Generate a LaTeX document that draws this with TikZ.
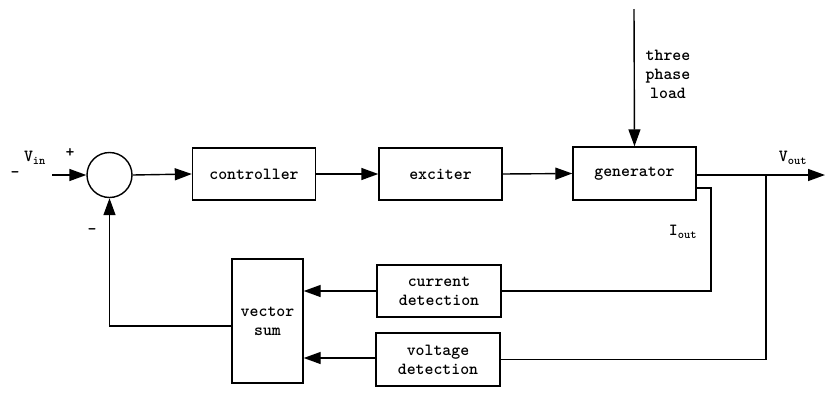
\documentclass[tikz,border=0pt]{standalone}
\usepackage{fontspec}
\usetikzlibrary{arrows.meta}
\tikzset{
  blk/.style={draw, line width=1.4pt, minimum width=123pt, minimum height=52pt, inner sep=0pt, align=center, font=\ttfamily\bfseries\fontsize{17}{19}\selectfont},
  lbl/.style={inner sep=0pt, align=center, font=\ttfamily\bfseries\fontsize{17}{19}\selectfont},
  wire/.style={line width=1.4pt},
  arr/.style={line width=1.4pt, -{Triangle[length=17pt,width=12pt]}},
}
\begin{document}
\begin{tikzpicture}[x=1pt,y=-1pt]
\useasboundingbox (0,0) rectangle (825,394);
% blocks
\node[draw, circle, line width=1.4pt, minimum size=45pt, inner sep=0pt] (sum) at (109.5,175) {};
\node[blk] (ctrl) at (254,174) {controller};
\node[blk] (exc) at (440.5,174) {exciter};
\node[blk, minimum height=53pt] (gen) at (634.5,173.5) {generator};
\node[blk, minimum width=71pt, minimum height=124pt] (vs) at (267.5,321) {vector\\sum};
\node[blk, minimum width=124pt] (cd) at (439,291) {current\\detection};
\node[blk, minimum width=124pt, minimum height=53pt] (vd) at (438,359.5) {voltage\\detection};
% coordinates
\coordinate (in) at (52,175);
\coordinate (load) at (634,9);
\coordinate (out) at (825,175);
\coordinate (vtap) at (766,175);
\coordinate (ig) at (gen.east |- 0,188);
\coordinate (ic) at (711,188);
% connectors
\draw[arr] (in) -- (sum.west);
\draw[arr] (sum.east) -- (ctrl.west);
\draw[arr] (ctrl.east) -- (exc.west);
\draw[arr] (exc.east) -- (gen.west);
\draw[arr] (load) -- (gen.north);
\draw[arr] (gen.east |- out) -- (out);
\draw[wire] (ig) -- (ic) |- (cd.east);
\draw[wire] (vtap) |- (vd.east);
\draw[arr] (cd.west) -- (vs.east |- cd.west);
\draw[arr] (vd.west |- 0,358) -- (vs.east |- 0,358);
\draw[arr] (vs.west |- 0,326) -| (sum.south);
% labels
\node[lbl] at (15,175) {-};
\node[lbl] at (35,158) {V\textsubscript{in}};
\node[lbl] at (70,153) {+};
\node[lbl] at (92,232) {-};
\node[lbl] at (793,158) {V\textsubscript{out}};
\node[lbl] at (683,232) {I\textsubscript{out}};
\node[lbl] at (668,74) {three\\phase\\load};
\end{tikzpicture}
\end{document}
